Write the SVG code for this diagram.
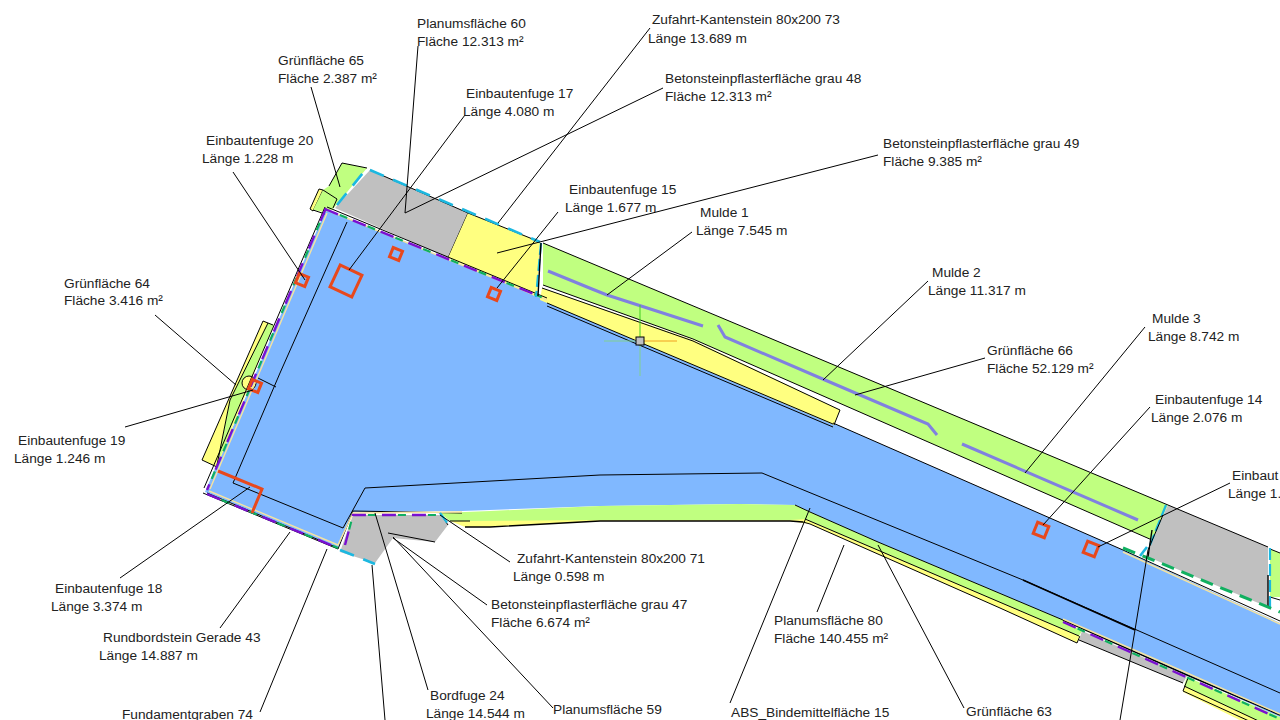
<svg xmlns="http://www.w3.org/2000/svg" width="1280" height="720" viewBox="0 0 1280 720">
<style>
text{font-family:"Liberation Sans",Arial,sans-serif;font-size:13.7px;fill:#222}
.e{stroke:#000;stroke-width:1;stroke-linejoin:miter}
.blue{fill:#80b8ff}.green{fill:#c0ff80}.yellow{fill:#ffff80}.gray{fill:#c0c0c0}
.l{fill:none;stroke:#000;stroke-width:1}
.t{fill:none;stroke:#000;stroke-width:1.4}
.o{fill:none;stroke:#e8481c;stroke-width:3}
.m{fill:none;stroke:#8080e0;stroke-width:3}
.c{fill:none;stroke:#1cb8e0;stroke-width:2.6;stroke-dasharray:15 10}
.c2{fill:none;stroke:#1cb8e0;stroke-width:2.2;stroke-dasharray:12 4}
.p{fill:none;stroke:#7a10d0;stroke-width:2.4;stroke-dasharray:14 16}
.g{fill:none;stroke:#10b060;stroke-width:2.2;stroke-dasharray:8 22;stroke-dashoffset:-16}
.gg{fill:none;stroke:#10b060;stroke-width:3;stroke-dasharray:13 8}
.b{fill:none;stroke:#f5e3a0;stroke-width:1.4}
</style>
<rect width="1280" height="720" fill="#fff"/>
<g id="areas">
<polygon id="blue-area" class="blue" points="326,209 547,300 833,423 1123,550 1280,623 1280,717 1187,675 1063,620 878,542 810,512 795,505 740,504 600,506 462,511 353,512 338,548 205,492"/>
<polygon id="pf-small" class="yellow e" points="319,189 323,190 313,211 310,209"/>
<polygon id="gf65" class="green" points="342,163 367,168 333,209 325,212 313,210 323,190 329,186"/>
<path class="l" d="M342,163 L367,168 M342,163 L329,186 M323,190 L337,199 L333,208 M313,210 L325,214"/>
<polygon id="gf64-y" class="yellow" points="263,321 273,325 217,467 202,460"/>
<polygon id="gf64" class="green" points="268,323 274,325 243,395 217,465 230,400"/>
<path class="l" d="M273,325 L263,321 L202,460 L217,467 M268,323 L230,400 L217,465"/>
<circle id="mark" cx="249" cy="383" r="7" fill="#ffff80" stroke="#000" stroke-width="1"/>
<polygon id="gray48" class="gray" points="370,170 468,213 448,258 335,208"/>
<polyline class="e" fill="none" points="370,170 468,213 448,258"/>
<polygon id="yellow48" class="yellow" points="468,213 540,242 537,297 448,258"/>
<polyline class="l" points="468,213 540,242"/>
<polygon id="gf66" class="green" points="543,243 1168,505 1152,540 693,339 543,285"/>
<path class="l" d="M543,243 L1168,505 M1152,540 L693,339 L543,285"/>
<polygon id="pf-y" class="yellow" points="542,288 693,340 840,410 834,425 540,300"/>
<path class="l" d="M542,288 L693,341 L840,410 L834,425"/>
<polygon id="gray-r" class="gray" points="1168,505 1268,547 1268,607 1148,557 1152,540"/>
<path class="l" d="M1168,505 L1268,547"/>
<polygon id="gf-r" class="green" points="1270,549 1280,553 1280,597 1270,597"/>
<path class="l" d="M1270,549 L1280,553 M1270,597 L1280,600"/>
<polygon id="gray47" class="gray" points="353,515 440,515 448,525 435,542 393,538 375,563 340,552"/>
<path class="l" d="M388,533 L435,542"/>
<polygon id="pf80" class="yellow" points="450,521 490,520 790,519 805,519 1080,636 1077,643 1000,608 810,524 790,521 600,521 490,527 465,527"/>
<path class="l" d="M803,522 L810,524 L1000,608 L1077,643 L1080,636"/>
<polygon id="gf63" class="green" points="440,513 490,511 600,506 740,504 795,505 810,512 878,542 1063,620 1082,631 1079,636 805,519 790,520 600,520 470,521 450,521"/>
<path class="l" d="M795,505 L810,512 L878,542 L1063,620 M805,519 L1079,636 M450,521 L470,521"/>
<path class="t" d="M465,527 L490,527 L600,521 L790,521 L803,522"/>
<polygon id="gray-b" class="gray" points="1082,631 1187,676 1183,683 1079,640"/>
<path class="l" d="M1079,640 L1183,683"/>
<polygon id="pf-b" class="yellow" points="1187,680 1280,722 1280,740 1183,692"/>
<polygon id="gf-b" class="green" points="1187,677 1280,717 1280,731 1184,686"/>
<path class="l" d="M1188,678 L1183,691 L1260,726 M1184,686 L1280,731"/>
</g>
<g id="edges">
<path class="l" d="M207,493 L338,548"/>
<path class="l" d="M327,207 L547,298 M547,303 L833,424 M547,306 L833,427 M833,423 L1123,550 L1280,621 M204,488 L325,207 M203,493 L338,549 L353,511 L462,513 M347,222 L280,373 L233,483 L343,528 L365,488 L600,475 L762,473 L1023,580 L1280,693 M258,378 L276,387 M440,513 L448,525"/>
<path class="t" d="M1023,580 L1135,630 M1063,620 L1187,675 L1280,715"/>
<path class="b" d="M210,489 L327,213 M209,491 L338,545 L353,513 L462,512 M327,210 L547,300 M1123,552 L1280,624 M1063,619 L1187,673 L1280,714"/>
<path class="p" d="M325,209 L546,299 M326,208 L207,490 M207,494 L338,548 M345,545 L353,515 L440,515 M1063,622 L1280,719"/>
<path class="g" d="M325,209 L546,299 M326,208 L207,490 M207,494 L338,548 M345,545 L353,515 L440,515 M1063,622 L1280,719"/>
<path class="c" d="M370,170 L540,242 M337,205 L367,168 M340,550 L375,564"/>
<path class="c2" d="M541,243 L536,297 M1166,505 L1150,545 M1270,548 L1270,610 M440,513 L448,524"/>
<path class="t" d="M541,243 L538,296 M1268,575 L1268,607 M1152,530 L1148,557"/>
<path class="gg" d="M1123,548 L1148,558 L1280,612"/>
<polyline class="c" points="1140,556 1147,547"/>
</g>
<g id="mulden">
<polyline id="mulde1" class="m" points="548,271 592,289 607,295 703,326"/>
<polyline id="mulde2" class="m" points="718,325 725,337 825,380 928,424 937,435"/>
<polyline id="mulde3" class="m" points="962,444 1138,520"/>
</g>
<g id="fugen">
<rect id="ef17" class="o" x="-12" y="-12" width="24" height="24" transform="translate(346,281) rotate(25)"/>
<rect id="ef-a" class="o" x="-5" y="-5" width="10" height="10" transform="translate(396,254) rotate(22)"/>
<rect id="ef15" class="o" x="-5" y="-5" width="10" height="10" transform="translate(494,294) rotate(22)"/>
<rect id="ef20" class="o" x="-5" y="-5" width="10" height="10" transform="translate(302,280) rotate(22)"/>
<rect id="ef19" class="o" x="-5" y="-5" width="10" height="10" transform="translate(255,386) rotate(22)"/>
<polyline id="ef18" class="o" points="218,471 262,489 252,513"/>
<rect id="ef14" class="o" x="-6" y="-6" width="12" height="12" transform="translate(1041,530) rotate(22)"/>
<rect id="ef13" class="o" x="-6" y="-6" width="12" height="12" transform="translate(1091,549) rotate(22)"/>
</g>
<g id="cursor">
<path d="M640,305 V341" stroke="#40d020" stroke-width="1"/>
<path d="M640,341 V376" stroke="#80d090" stroke-width="1"/>
<path d="M604,341 H640" stroke="#80d090" stroke-width="1"/>
<path d="M640,341 H677" stroke="#f0a020" stroke-width="1"/>
<rect x="636" y="337" width="8" height="8" fill="#c0c0c0" stroke="#000" stroke-width="1"/>
</g>
<g id="connectors">
<path class="l" d="M418,46 L405,213 M663,88 L405,213 M465,115 L349,270 M311,87 L340,187 M233,172 L305,280 M650,28 L498,223 M558,212 L497,288 M878,155 L497,253 M692,232 L607,295 M928,281 L823,380 M985,358 L855,395 M1145,327 L1025,473 M1150,407 L1043,525 M1230,483 L1098,547 M125,427 L253,390 M155,315 L236,385 M120,578 L250,487 M220,628 L290,532 M260,712 L327,549 M372,565 L385,720 M428,690 L375,513 M487,605 L393,538 M553,708 L393,537 M510,562 L440,515 M730,703 L810,508 M817,612 L844,545 M964,708 L878,545 M1120,720 L1135,630 L1148,550 L1163,515"/>
</g>
<g id="n1"><text x="417" y="28">Planumsfläche 60</text><text x="417" y="46">Fläche 12.313 m²</text></g>
<g id="n2"><text x="652" y="24">Zufahrt-Kantenstein 80x200 73</text><text x="648" y="43">Länge 13.689 m</text></g>
<g id="n3"><text x="665" y="83">Betonsteinpflasterfläche grau 48</text><text x="665" y="101">Fläche 12.313 m²</text></g>
<g id="n4"><text x="278" y="65">Grünfläche 65</text><text x="278" y="83">Fläche 2.387 m²</text></g>
<g id="n5"><text x="466" y="98">Einbautenfuge 17</text><text x="463" y="116">Länge 4.080 m</text></g>
<g id="n6"><text x="883" y="148">Betonsteinpflasterfläche grau 49</text><text x="883" y="166">Fläche 9.385 m²</text></g>
<g id="n7"><text x="206" y="145">Einbautenfuge 20</text><text x="202" y="163">Länge 1.228 m</text></g>
<g id="n8"><text x="569" y="194">Einbautenfuge 15</text><text x="565" y="212">Länge 1.677 m</text></g>
<g id="n9"><text x="700" y="217">Mulde 1</text><text x="696" y="235">Länge 7.545 m</text></g>
<g id="n10"><text x="932" y="277">Mulde 2</text><text x="928" y="295">Länge 11.317 m</text></g>
<g id="n11"><text x="64" y="288">Grünfläche 64</text><text x="64" y="305">Fläche 3.416 m²</text></g>
<g id="n12"><text x="1152" y="323">Mulde 3</text><text x="1148" y="341">Länge 8.742 m</text></g>
<g id="n13"><text x="987" y="355">Grünfläche 66</text><text x="987" y="373">Fläche 52.129 m²</text></g>
<g id="n14"><text x="1155" y="404">Einbautenfuge 14</text><text x="1151" y="422">Länge 2.076 m</text></g>
<g id="n15"><text x="18" y="445">Einbautenfuge 19</text><text x="14" y="463">Länge 1.246 m</text></g>
<g id="n16"><text x="1232" y="480">Einbaut</text><text x="1228" y="498">Länge 1.</text></g>
<g id="n17"><text x="517" y="563">Zufahrt-Kantenstein 80x200 71</text><text x="513" y="581">Länge 0.598 m</text></g>
<g id="n18"><text x="55" y="593">Einbautenfuge 18</text><text x="51" y="611">Länge 3.374 m</text></g>
<g id="n19"><text x="491" y="609">Betonsteinpflasterfläche grau 47</text><text x="491" y="627">Fläche 6.674 m²</text></g>
<g id="n20"><text x="774" y="625">Planumsfläche 80</text><text x="774" y="643">Fläche 140.455 m²</text></g>
<g id="n21"><text x="103" y="642">Rundbordstein Gerade 43</text><text x="99" y="660">Länge 14.887 m</text></g>
<g id="n22"><text x="430" y="700">Bordfuge 24</text><text x="426" y="718">Länge 14.544 m</text></g>
<g id="n23"><text x="122" y="719">Fundamentgraben 74</text></g>
<g id="n24"><text x="553" y="714">Planumsfläche 59</text></g>
<g id="n25"><text x="731" y="717">ABS_Bindemittelfläche 15</text></g>
<g id="n26"><text x="966" y="716">Grünfläche 63</text></g>
</svg>
